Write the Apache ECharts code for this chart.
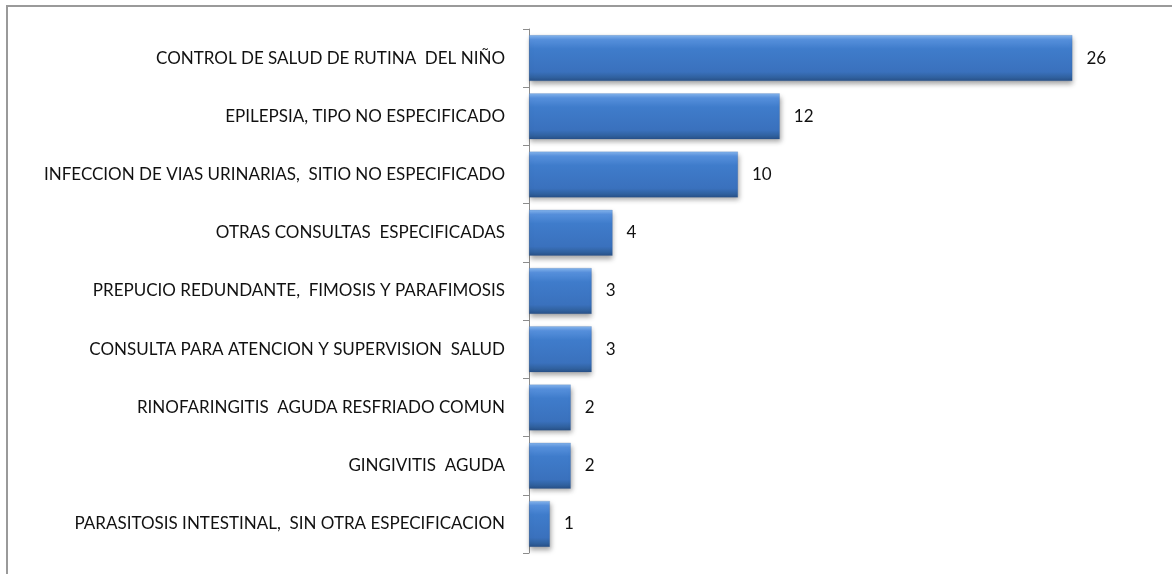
<!DOCTYPE html>
<html>
<head>
<meta charset="utf-8">
<script src="https://cdn.jsdelivr.net/npm/echarts@6/dist/echarts.min.js"></script>
<style>
  html, body { margin: 0; padding: 0; background: #fff; }
  #chart { width: 1172px; height: 574px; }
</style>
</head>
<body>
<div id="chart"></div>
<script>
// Diagnoses (top to bottom) and number of consultations
const categories = [
  'CONTROL DE SALUD DE RUTINA  DEL NIÑO',
  'EPILEPSIA, TIPO NO ESPECIFICADO',
  'INFECCION DE VIAS URINARIAS,  SITIO NO ESPECIFICADO',
  'OTRAS CONSULTAS  ESPECIFICADAS',
  'PREPUCIO REDUNDANTE,  FIMOSIS Y PARAFIMOSIS',
  'CONSULTA PARA ATENCION Y SUPERVISION  SALUD',
  'RINOFARINGITIS  AGUDA RESFRIADO COMUN',
  'GINGIVITIS  AGUDA',
  'PARASITOSIS INTESTINAL,  SIN OTRA ESPECIFICACION'
];
const counts = [26, 12, 10, 4, 3, 3, 2, 2, 1];

const FONT = 'Lato';

const chart = echarts.init(document.getElementById('chart'), null, { renderer: 'canvas' });

// Bevelled blue fill for the bars
const barFill = new echarts.graphic.LinearGradient(0, 0, 0, 1, [
  { offset: 0, color: '#86b6ee' },
  { offset: 0.1, color: '#5690dc' },
  { offset: 0.3, color: '#3f7ccb' },
  { offset: 0.8, color: '#3a71bd' },
  { offset: 0.92, color: '#30619f' },
  { offset: 1, color: '#274f86' }
]);

chart.setOption({
  animation: false,
  backgroundColor: '#ffffff',
  graphic: [{
    type: 'rect',
    silent: true,
    shape: { x: 7, y: 6, width: 1300, height: 700 },
    style: { fill: 'none', stroke: '#9a9a9a', lineWidth: 2 }
  }],
  grid: { left: 529, right: 16, top: 29, bottom: 21 },
  xAxis: {
    type: 'value',
    min: 0,
    max: 30,
    show: false
  },
  yAxis: {
    type: 'category',
    data: categories,
    inverse: true,
    axisLine: { show: true, lineStyle: { color: '#8c8c8c', width: 1 } },
    axisTick: { show: true, length: 6, lineStyle: { color: '#8c8c8c' } },
    axisLabel: {
      margin: 24,
      color: '#111',
      fontFamily: FONT,
      fontSize: 17
    },
    splitLine: { show: false }
  },
  series: [{
    type: 'bar',
    data: counts,
    barCategoryGap: '21%',
    itemStyle: {
      color: barFill,
      borderColor: 'rgba(40,80,140,0.35)',
      borderWidth: 0.5,
      shadowColor: 'rgba(0,0,0,0.35)',
      shadowBlur: 5,
      shadowOffsetX: 1,
      shadowOffsetY: 3
    },
    label: {
      show: true,
      position: 'right',
      distance: 14,
      color: '#111',
      fontFamily: FONT,
      fontSize: 17
    }
  }]
});
</script>
</body>
</html>
